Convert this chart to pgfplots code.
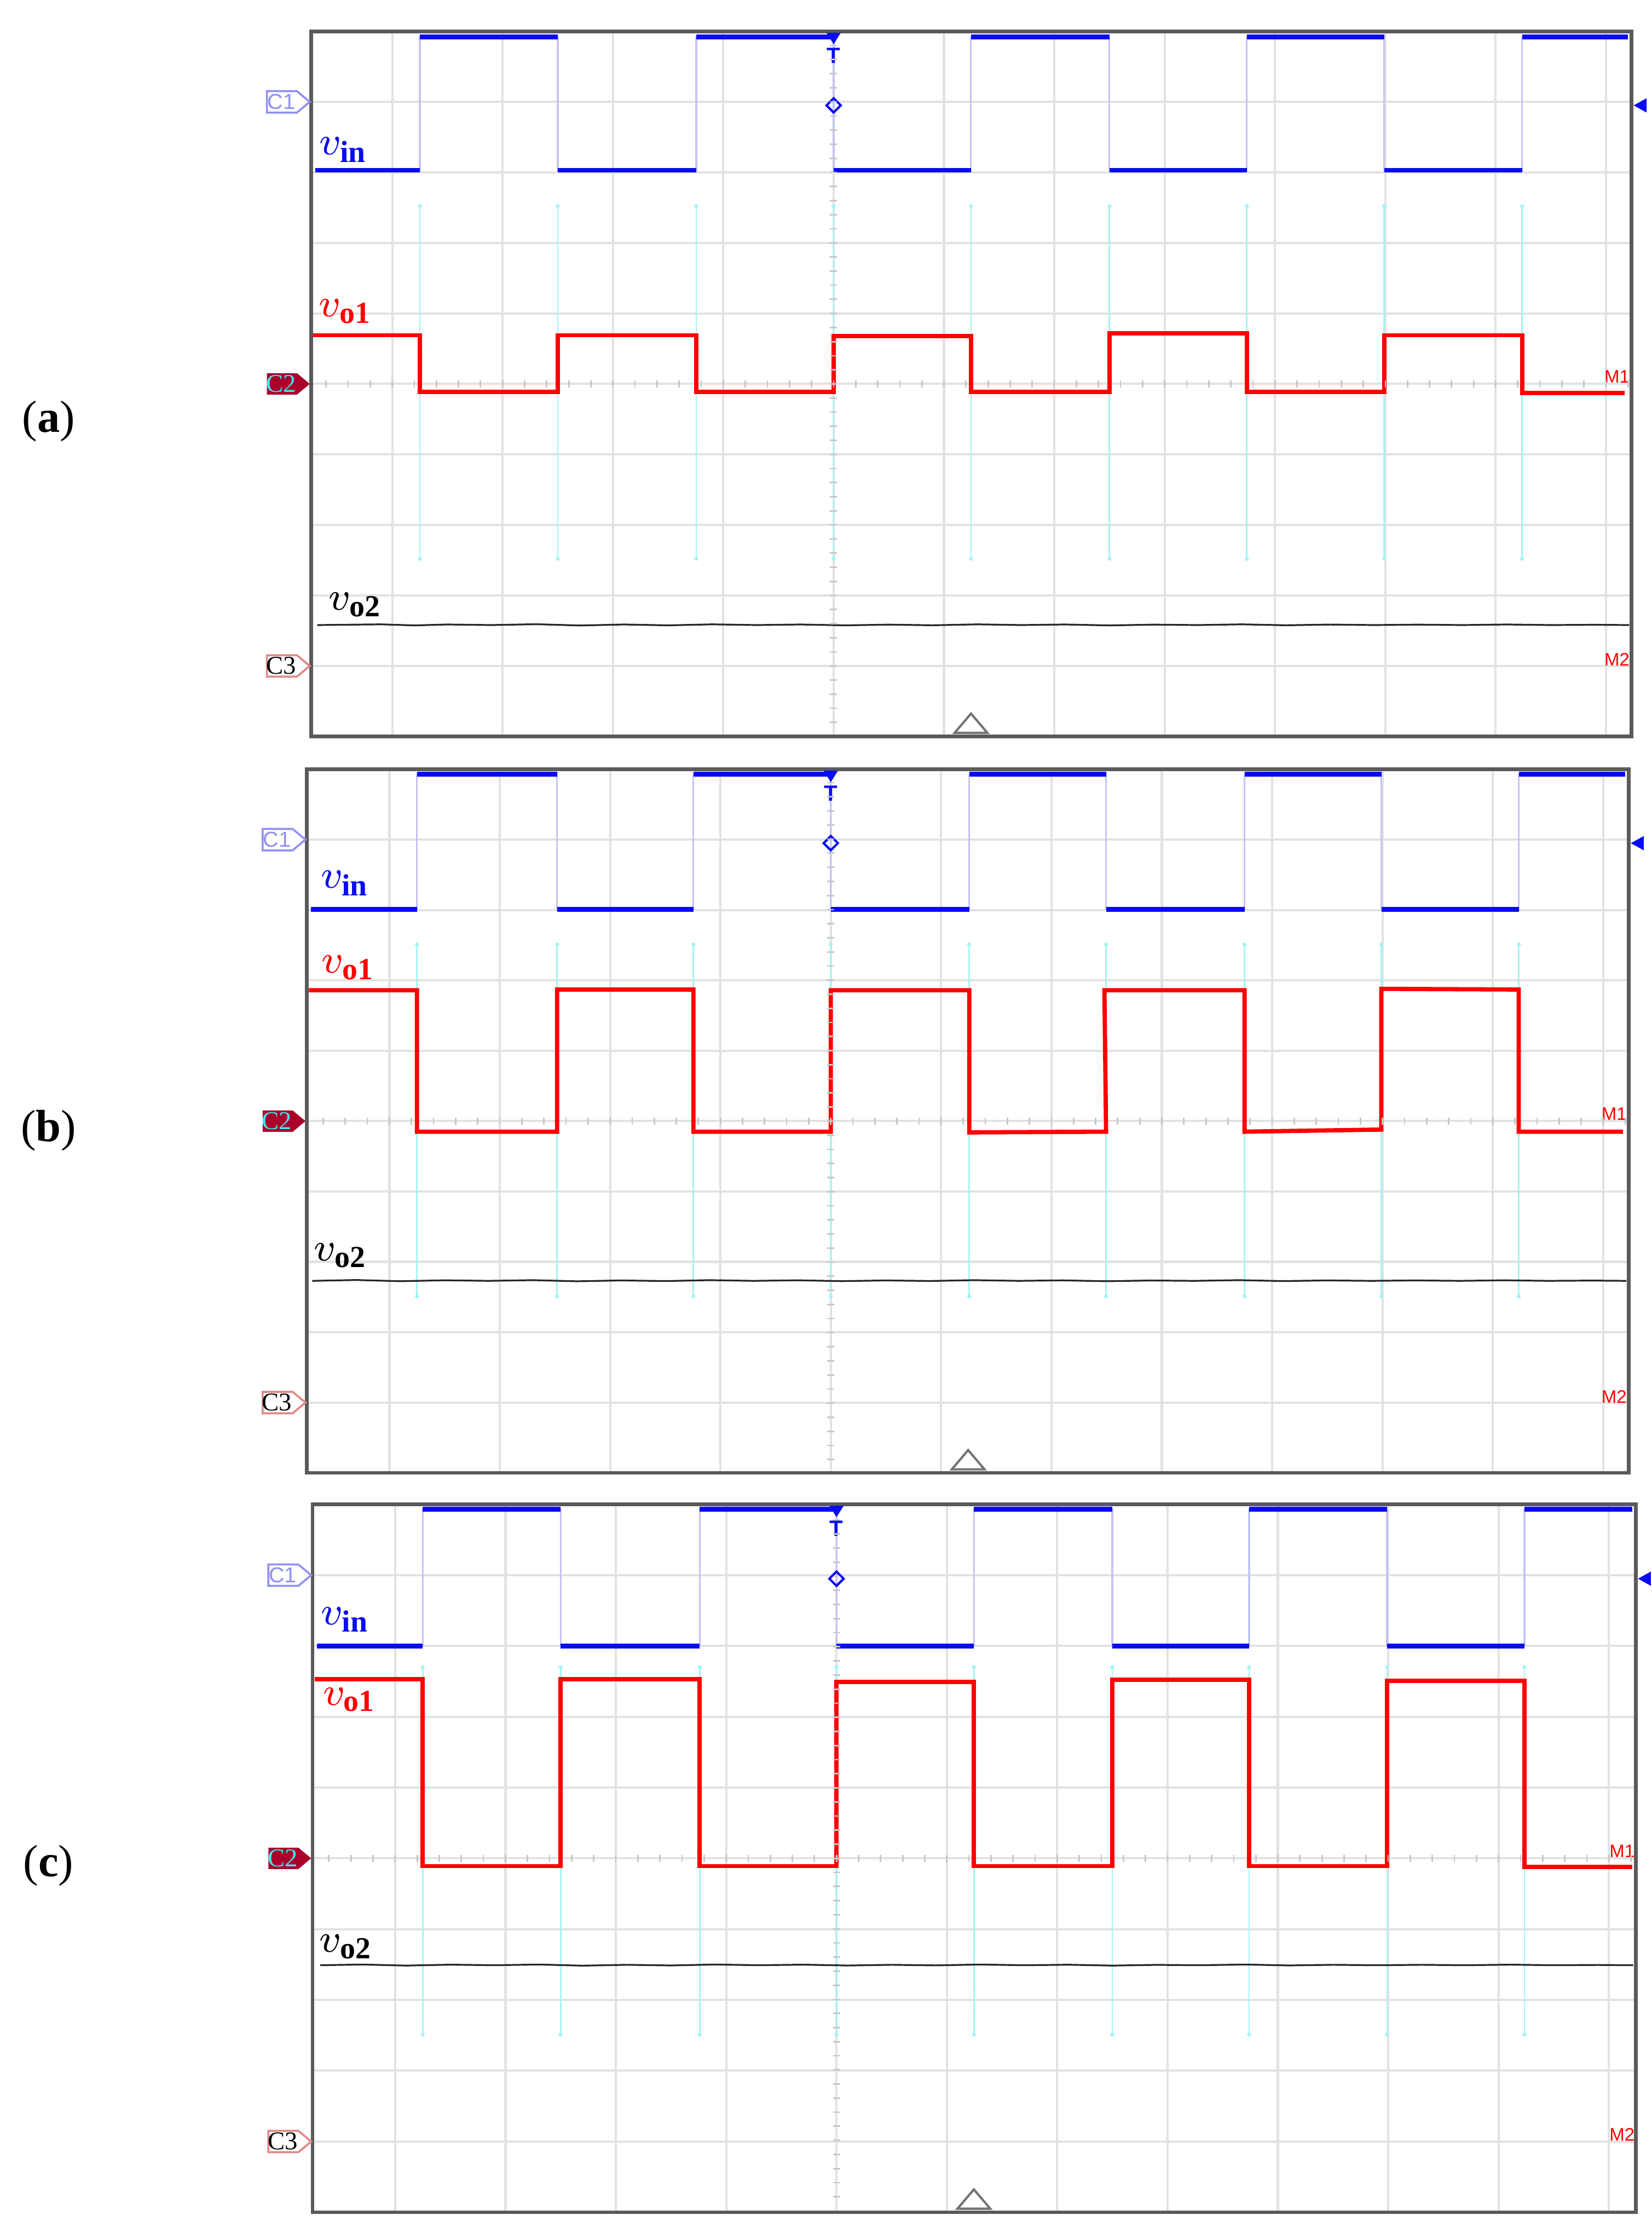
\documentclass[border=0pt]{standalone}
\usepackage{pgfplots}
\pgfplotsset{compat=1.18}
\usepackage{fontspec}
\setmainfont{Liberation Serif}
\setsansfont{Liberation Sans}

\definecolor{trBlue}{HTML}{0A0AF5}
\definecolor{trRed}{HTML}{FF0000}
\definecolor{trCyan}{HTML}{A6F4F4}
\definecolor{trLav}{HTML}{C4C4F4}
\definecolor{gridC}{HTML}{E2E2E2}
\definecolor{frameC}{HTML}{5A5A5A}
\definecolor{cOneC}{HTML}{9090F0}
\definecolor{cTwoF}{HTML}{A8002A}
\definecolor{cTwoT}{HTML}{40E8F0}
\definecolor{cThreeC}{HTML}{E08888}

\newcommand\lab{\fontsize{7.8}{8}\selectfont}
\newcommand\subf{\fontsize{6.1}{6.1}\selectfont\bfseries}
\newcommand\mlab{\sffamily\fontsize{3.6}{3.6}\selectfont}

% scope screen: x in divisions from the trigger, y in divisions from the bottom
\pgfplotsset{
  scope/.style={
    scale only axis, clip=false,
    ymin=0, ymax=10,
    xtick={-4,...,7}, ytick={1,...,9},
    xticklabels={}, yticklabels={},
    major tick length=0pt,
    grid=major,
    major grid style={line width=0.45pt, draw=gridC},
    axis line style={line width=0.7pt, draw=frameC},
    unbounded coords=jump,
  },
  cy/.style={trCyan, line width=0.3pt, mark=*, mark size=0.25pt, mark options={fill=trCyan, draw=trCyan}},
  vinthin/.style={trLav, line width=0.35pt, no marks},
  vin/.style={trBlue, line width=0.95pt, no marks},
  vo1/.style={trRed, line width=0.85pt, no marks, line join=miter},
  vo2/.style={black!85, line width=0.35pt, no marks},
}

\newcommand\scopedeco[1]{%
  \draw[cOneC, line width=0.4pt, fill=white] (#1C1) ++(-0.31,0.075) -- ++(0.21,0) -- ++(0.09,-0.075) -- ++(-0.09,-0.075) -- ++(-0.21,0) -- cycle;
  \node[cOneC, font=\sffamily\fontsize{4.3}{4.3}\selectfont, inner sep=0pt] at ([xshift=-0.21cm]#1C1) {C1};
  \fill[cTwoF] (#1C2) ++(-0.31,0.075) -- ++(0.21,0) -- ++(0.09,-0.075) -- ++(-0.09,-0.075) -- ++(-0.21,0) -- cycle;
  \node[cTwoT, font=\fontsize{5.1}{5.1}\selectfont, inner sep=0pt] at ([xshift=-0.21cm]#1C2) {C2};
  \draw[cThreeC, line width=0.4pt, fill=white] (#1C3) ++(-0.31,0.075) -- ++(0.21,0) -- ++(0.09,-0.075) -- ++(-0.09,-0.075) -- ++(-0.21,0) -- cycle;
  \node[black, font=\fontsize{5.1}{5.1}\selectfont, inner sep=0pt] at ([xshift=-0.21cm]#1C3) {C3};
  \fill[trBlue] ([xshift=0.015cm]#1R) -- ++(0.09,0.05) -- ++(0,-0.10) -- cycle;
  \fill[trBlue] ([xshift=-0.05cm,yshift=-0.01cm]#1T) -- ++(0.10,0) -- ++(-0.05,-0.08) -- cycle;
  \node[trBlue, font=\sffamily\bfseries\fontsize{4.4}{4.4}\selectfont, inner sep=0pt] at ([yshift=-0.17cm]#1T) {T};
  \draw[trBlue, line width=0.45pt] ([xshift=-0.05cm]#1D) -- ([yshift=0.05cm]#1D) -- ([xshift=0.05cm]#1D) -- ([yshift=-0.05cm]#1D) -- cycle;
  \draw[black!55, line width=0.45pt, fill=white] ([xshift=-0.115cm,yshift=0.025cm]#1B) -- ([yshift=0.16cm]#1B) -- ([xshift=0.115cm,yshift=0.025cm]#1B) -- cycle;
  \foreach \k in {-23,...,36} \draw[black!22, line width=0.3pt] ([xshift=\k*0.1546cm, yshift=-0.025cm]#1O) -- ++(0,0.05);
  \foreach \k in {-24,...,24} \draw[black!22, line width=0.3pt] ([yshift=\k*0.0988cm, xshift=-0.025cm]#1O) -- ++(0.05,0);
}

\newcommand\scopecoords[1]{%
  \coordinate (#1C1) at (rel axis cs:0,0.9);
  \coordinate (#1C2) at (rel axis cs:0,0.5);
  \coordinate (#1C3) at (rel axis cs:0,0.1);
  \coordinate (#1R) at (rel axis cs:1,0.895);
  \coordinate (#1T) at (axis cs:0,10);
  \coordinate (#1D) at (axis cs:0,8.95);
  \coordinate (#1O) at (axis cs:0,5);
  \coordinate (#1B) at (axis cs:1.245,0);
}

\begin{document}
\begin{tikzpicture}
\path[use as bounding box] (0,0) rectangle (11.57,15.68);

% ---------------- (a) ----------------
\begin{axis}[scope, at={(2.18cm,10.52cm)}, anchor=south west,
  width=9.25cm, height=4.94cm, xmin=-4.735, xmax=7.232]
\addplot[cy] coordinates {
  (-3.75,2.52)(-3.75,7.52)(0,nan)(-2.50,2.52)(-2.50,7.52)(0,nan)
  (-1.245,2.52)(-1.245,7.52)(0,nan)(0,2.52)(0,7.52)(0,nan)
  (1.245,2.52)(1.245,7.52)(0,nan)(2.50,2.52)(2.50,7.52)(0,nan)
  (3.745,2.52)(3.745,7.52)(0,nan)(4.99,2.52)(4.99,7.52)(0,nan)
  (6.24,2.52)(6.24,7.52)};
\addplot[vinthin] coordinates {
  (-4.70,8.03)(-3.75,8.03)(-3.75,9.92)(-2.50,9.92)(-2.50,8.03)(-1.245,8.03)
  (-1.245,9.92)(0,9.92)(0,8.03)(1.245,8.03)(1.245,9.92)(2.50,9.92)(2.50,8.03)
  (3.745,8.03)(3.745,9.92)(4.99,9.92)(4.99,8.03)(6.24,8.03)(6.24,9.92)(7.20,9.92)};
\addplot[vin] coordinates {
  (-4.70,8.03)(-3.75,8.03)(0,nan)(-3.75,9.92)(-2.50,9.92)(0,nan)
  (-2.50,8.03)(-1.245,8.03)(0,nan)(-1.245,9.92)(0,9.92)(0,nan)
  (0,8.03)(1.245,8.03)(0,nan)(1.245,9.92)(2.50,9.92)(0,nan)
  (2.50,8.03)(3.745,8.03)(0,nan)(3.745,9.92)(4.99,9.92)(0,nan)
  (4.99,8.03)(6.24,8.03)(0,nan)(6.24,9.92)(7.20,9.92)};
\addplot[vo1] coordinates {
  (-4.72,5.69)(-3.75,5.69)(-3.75,4.89)(-2.50,4.89)(-2.50,5.69)(-1.245,5.69)
  (-1.245,4.89)(0,4.89)(0,5.68)(1.245,5.68)(1.245,4.89)(2.50,4.89)(2.50,5.72)
  (3.745,5.72)(3.745,4.89)(4.99,4.89)(4.99,5.69)(6.24,5.69)(6.24,4.87)(7.17,4.87)};
\addplot[vo2] coordinates {
  (-4.68,1.58)(-4.1,1.59)(-3.8,1.575)(-3.5,1.588)(-3.1,1.58)(-2.7,1.592)(-2.3,1.574)
  (-1.9,1.588)(-1.5,1.576)(-1.1,1.59)(-0.7,1.58)(-0.3,1.588)(0.1,1.576)(0.5,1.586)
  (0.9,1.577)(1.3,1.59)(1.7,1.58)(2.1,1.588)(2.5,1.575)(2.9,1.586)(3.3,1.58)
  (3.7,1.59)(4.1,1.577)(4.5,1.587)(4.9,1.58)(5.3,1.586)(5.7,1.58)(6.1,1.588)
  (6.5,1.58)(6.9,1.584)(7.21,1.58)};
\node[trBlue, font=\lab] at (axis cs:-4.44,8.32) {$v_{\mbox{\subf in}}$};
\node[trRed, font=\lab] at (axis cs:-4.42,6.03) {$v_{\mbox{\subf o1}}$};
\node[black, font=\lab] at (axis cs:-4.33,1.87) {$v_{\mbox{\subf o2}}$};
\node[trRed, font=\mlab] at (axis cs:7.10,5.10) {M1};
\node[trRed, font=\mlab] at (axis cs:7.10,1.09) {M2};
\scopecoords{a}
\end{axis}
\scopedeco{a}

% ---------------- (b) ----------------
\begin{axis}[scope, at={(2.15cm,5.36cm)}, anchor=south west,
  width=9.26cm, height=4.93cm, xmin=-4.748, xmax=7.232]
\addplot[cy] coordinates {
  (-3.75,2.51)(-3.75,7.51)(0,nan)(-2.48,2.51)(-2.48,7.51)(0,nan)
  (-1.245,2.51)(-1.245,7.51)(0,nan)(0,2.51)(0,7.51)(0,nan)
  (1.255,2.51)(1.255,7.51)(0,nan)(2.495,2.51)(2.495,7.51)(0,nan)
  (3.75,2.51)(3.75,7.51)(0,nan)(4.99,2.51)(4.99,7.51)(0,nan)
  (6.235,2.51)(6.235,7.51)};
\addplot[vinthin] coordinates {
  (-4.71,8.01)(-3.75,8.01)(-3.75,9.93)(-2.48,9.93)(-2.48,8.01)(-1.245,8.01)
  (-1.245,9.93)(0,9.93)(0,8.01)(1.255,8.01)(1.255,9.93)(2.495,9.93)(2.495,8.01)
  (3.75,8.01)(3.75,9.93)(4.99,9.93)(4.99,8.01)(6.235,8.01)(6.235,9.93)(7.20,9.93)};
\addplot[vin] coordinates {
  (-4.71,8.01)(-3.75,8.01)(0,nan)(-3.75,9.93)(-2.48,9.93)(0,nan)
  (-2.48,8.01)(-1.245,8.01)(0,nan)(-1.245,9.93)(0,9.93)(0,nan)
  (0,8.01)(1.255,8.01)(0,nan)(1.255,9.93)(2.495,9.93)(0,nan)
  (2.495,8.01)(3.75,8.01)(0,nan)(3.75,9.93)(4.99,9.93)(0,nan)
  (4.99,8.01)(6.235,8.01)(0,nan)(6.235,9.93)(7.20,9.93)};
\addplot[vo1] coordinates {
  (-4.73,6.86)(-3.75,6.86)(-3.75,4.85)(-2.48,4.85)(-2.48,6.87)(-1.245,6.87)
  (-1.245,4.85)(0,4.85)(0,6.86)(1.255,6.86)(1.255,4.84)(2.495,4.85)(2.48,6.86)
  (3.75,6.86)(3.75,4.85)(4.99,4.88)(4.99,6.88)(6.235,6.87)(6.235,4.85)(7.18,4.85)};
\addplot[vo2] coordinates {
  (-4.70,2.73)(-4.3,2.742)(-3.9,2.725)(-3.5,2.738)(-3.1,2.73)(-2.7,2.74)(-2.3,2.724)
  (-1.9,2.736)(-1.5,2.727)(-1.1,2.74)(-0.7,2.73)(-0.3,2.738)(0.1,2.726)(0.5,2.736)
  (0.9,2.728)(1.3,2.74)(1.7,2.73)(2.1,2.737)(2.5,2.725)(2.9,2.735)(3.3,2.73)
  (3.7,2.74)(4.1,2.727)(4.5,2.736)(4.9,2.73)(5.3,2.736)(5.7,2.73)(6.1,2.738)
  (6.5,2.73)(6.9,2.734)(7.21,2.73)};
\node[trBlue, font=\lab] at (axis cs:-4.40,8.38) {$v_{\mbox{\subf in}}$};
\node[trRed, font=\lab] at (axis cs:-4.37,7.18) {$v_{\mbox{\subf o1}}$};
\node[black, font=\lab] at (axis cs:-4.44,3.09) {$v_{\mbox{\subf o2}}$};
\node[trRed, font=\mlab] at (axis cs:7.10,5.10) {M1};
\node[trRed, font=\mlab] at (axis cs:7.10,1.08) {M2};
\scopecoords{b}
\end{axis}
\scopedeco{b}

% ---------------- (c) ----------------
\begin{axis}[scope, at={(2.19cm,0.18cm)}, anchor=south west,
  width=9.27cm, height=4.96cm, xmin=-4.748, xmax=7.245]
\addplot[cy] coordinates {
  (-3.75,2.51)(-3.75,7.70)(0,nan)(-2.50,2.51)(-2.50,7.70)(0,nan)
  (-1.24,2.51)(-1.24,7.70)(0,nan)(0,2.51)(0,7.70)(0,nan)
  (1.245,2.51)(1.245,7.70)(0,nan)(2.50,2.51)(2.50,7.70)(0,nan)
  (3.74,2.51)(3.74,7.70)(0,nan)(4.99,2.51)(4.99,7.70)(0,nan)
  (6.235,2.51)(6.235,7.70)};
\addplot[vinthin] coordinates {
  (-4.71,8.00)(-3.75,8.00)(-3.75,9.93)(-2.50,9.93)(-2.50,8.00)(-1.24,8.00)
  (-1.24,9.93)(0,9.93)(0,8.00)(1.245,8.00)(1.245,9.93)(2.50,9.93)(2.50,8.00)
  (3.74,8.00)(3.74,9.93)(4.99,9.93)(4.99,8.00)(6.235,8.00)(6.235,9.93)(7.21,9.93)};
\addplot[vin] coordinates {
  (-4.71,8.00)(-3.75,8.00)(0,nan)(-3.75,9.93)(-2.50,9.93)(0,nan)
  (-2.50,8.00)(-1.24,8.00)(0,nan)(-1.24,9.93)(0,9.93)(0,nan)
  (0,8.00)(1.245,8.00)(0,nan)(1.245,9.93)(2.50,9.93)(0,nan)
  (2.50,8.00)(3.74,8.00)(0,nan)(3.74,9.93)(4.99,9.93)(0,nan)
  (4.99,8.00)(6.235,8.00)(0,nan)(6.235,9.93)(7.21,9.93)};
\addplot[vo1] coordinates {
  (-4.73,7.53)(-3.75,7.53)(-3.75,4.89)(-2.50,4.89)(-2.50,7.53)(-1.24,7.53)
  (-1.24,4.89)(0,4.89)(0,7.49)(1.245,7.49)(1.245,4.89)(2.50,4.89)(2.50,7.52)
  (3.74,7.52)(3.74,4.89)(4.99,4.89)(4.99,7.51)(6.235,7.51)(6.235,4.88)(7.21,4.88)};
\addplot[vo2] coordinates {
  (-4.68,3.49)(-4.3,3.50)(-3.9,3.485)(-3.5,3.498)(-3.1,3.49)(-2.7,3.50)(-2.3,3.484)
  (-1.9,3.496)(-1.5,3.487)(-1.1,3.50)(-0.7,3.49)(-0.3,3.498)(0.1,3.486)(0.5,3.496)
  (0.9,3.488)(1.3,3.50)(1.7,3.49)(2.1,3.497)(2.5,3.485)(2.9,3.495)(3.3,3.49)
  (3.7,3.50)(4.1,3.487)(4.5,3.496)(4.9,3.49)(5.3,3.496)(5.7,3.49)(6.1,3.498)
  (6.5,3.49)(6.9,3.494)(7.22,3.49)};
\node[trBlue, font=\lab] at (axis cs:-4.45,8.37) {$v_{\mbox{\subf in}}$};
\node[trRed, font=\lab] at (axis cs:-4.41,7.24) {$v_{\mbox{\subf o1}}$};
\node[black, font=\lab] at (axis cs:-4.44,3.75) {$v_{\mbox{\subf o2}}$};
\node[trRed, font=\mlab] at (axis cs:7.12,5.10) {M1};
\node[trRed, font=\mlab] at (axis cs:7.12,1.10) {M2};
\scopecoords{c}
\end{axis}
\scopedeco{c}

% panel tags
\node[font=\fontsize{9}{10}\selectfont] at (0.34,12.73) {(\textbf{a})};
\node[font=\fontsize{9}{10}\selectfont] at (0.34,7.76) {(\textbf{b})};
\node[font=\fontsize{9}{10}\selectfont] at (0.34,2.61) {(\textbf{c})};
\end{tikzpicture}
\end{document}
